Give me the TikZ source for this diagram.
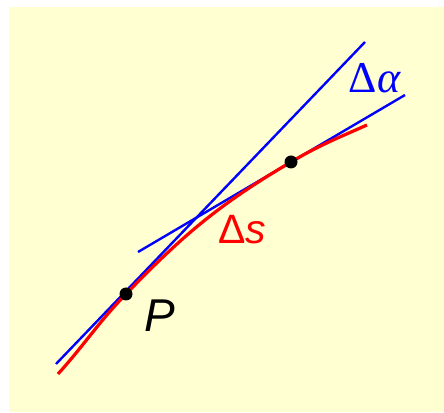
\documentclass[tikz,border=0pt]{standalone}
\usepackage{fontspec}
\setmainfont{Liberation Serif}
\setsansfont{Liberation Sans}
\definecolor{bgyellow}{RGB}{255,255,210}
\begin{document}
\begin{tikzpicture}[x=1pt,y=1pt,
  blueline/.style={draw=blue,line width=2.4pt},
  redcurve/.style={draw=red,line width=3.2pt},
  dotnode/.style={circle,fill=black,inner sep=0pt,minimum size=13pt}]
\useasboundingbox (0,0) rectangle (444,412);
\fill[bgyellow] (9,0) rectangle (444,405);
% coordinates
\coordinate (A1) at (56,48);
\coordinate (A2) at (365,370);
\coordinate (B1) at (138,160);
\coordinate (B2) at (405,317);
\coordinate (S) at (58,38);
\coordinate (E) at (367,287);
\coordinate (Pc) at (126,118);
\coordinate (Qc) at (291,250);
% tangents
\draw[blueline] (A1) -- (A2);
\draw[blueline] (B1) -- (B2);
% curve
\draw[redcurve] (S) to[out=48,in=226] (Pc) to[out=46,in=210.5] (Qc) to[out=30.5,in=204] (E);
% points
\node[dotnode] (P) at (Pc) {};
\node[dotnode] (Q) at (Qc) {};
% labels
\node[font=\sffamily\fontsize{46}{46}\selectfont\itshape] (lp) at (160,96) {P};
\node[red,font=\sffamily\fontsize{41}{41}\selectfont] (ls) at (242,182) {Δ\textit{s}};
\node[blue,font=\rmfamily\fontsize{44}{44}\selectfont] (la) at (375,334) {Δ\textit{α}};
\end{tikzpicture}
\end{document}
